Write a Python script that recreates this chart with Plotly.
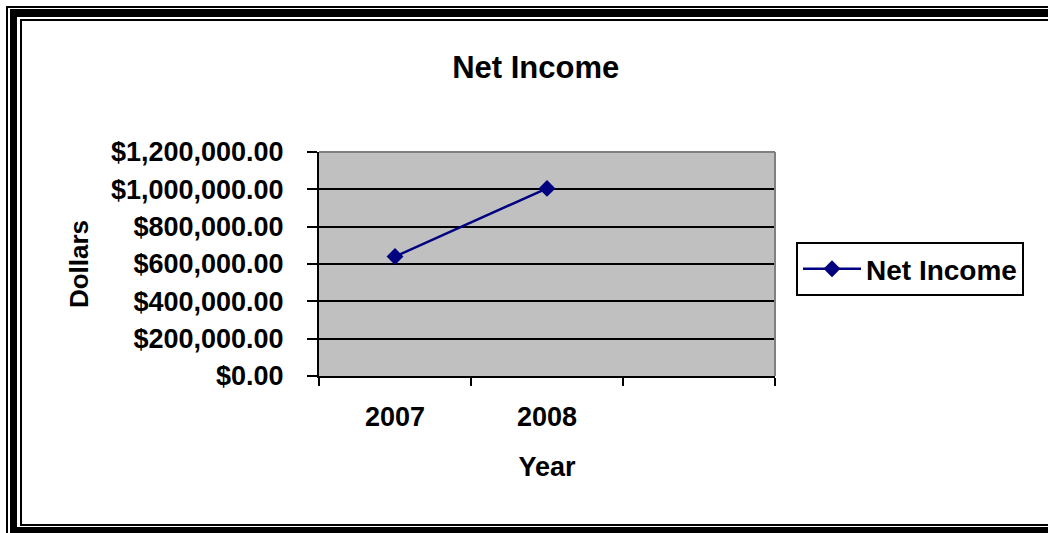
import plotly.graph_objects as go

# ---- data ----
years = ["2007", "2008"]
net_income = [640000, 1005000]
series_name = "Net Income"
chart_title = "Net Income"
x_title = "Year"
y_title = "Dollars"
y_tick_values = [0, 200000, 400000, 600000, 800000, 1000000, 1200000]

W, H = 1048, 533
L, R, T, B = 319, 273, 152, 157
PW, PH = W - L - R, H - T - B

def px_x(p):
    return (p - L) / PW

def px_y(p):
    return (H - B - p) / PH

FONT = "Arial, Liberation Sans, sans-serif"
NAVY = "#000080"

fig = go.Figure()
fig.add_trace(go.Scatter(
    x=years, y=net_income, name=series_name, mode="lines+markers",
    line=dict(color=NAVY, width=2.5),
    marker=dict(symbol="diamond", size=13, color=NAVY),
))

shapes = []
def rect(x0, y0, x1, y1, color="black"):
    shapes.append(dict(type="rect", xref="paper", yref="paper",
                       x0=px_x(x0), x1=px_x(x1), y0=px_y(y0), y1=px_y(y1),
                       fillcolor=color, line=dict(width=0), layer="above"))

# outer thin frame
rect(6, 6, 8, 533)
rect(6, 6, 1048, 8)
# thick frame
rect(10, 9, 17, 533)
rect(10, 9, 1048, 17)
rect(10, 527, 1048, 533)
# inner thin frame
rect(20, 19, 22, 525)
rect(20, 19, 1048, 21)
rect(20, 524, 1048, 526)

# plot area gray border (top and right)
shapes.append(dict(type="line", xref="paper", yref="paper", x0=0, x1=1, y0=1, y1=1,
                   line=dict(color="#808080", width=2), layer="above"))
shapes.append(dict(type="line", xref="paper", yref="paper", x0=1, x1=1, y0=0, y1=1,
                   line=dict(color="#808080", width=2), layer="above"))

fig.update_layout(
    width=W, height=H,
    margin=dict(l=L, r=R, t=T, b=B, autoexpand=False),
    paper_bgcolor="white",
    plot_bgcolor="#C0C0C0",
    font=dict(family=FONT, color="black", size=26, weight="bold"),
    title=dict(text=chart_title, x=535.7 / W, xref="container", xanchor="center",
               y=1 - 67 / H, yref="container", yanchor="middle",
               font=dict(family=FONT, size=31, weight="bold", color="black")),
    showlegend=True,
    legend=dict(x=px_x(796), y=px_y(242), xanchor="left", yanchor="top",
                bgcolor="white", bordercolor="black", borderwidth=2,
                font=dict(family=FONT, size=28, weight="bold", color="black"),
                itemwidth=58),
    shapes=shapes,
)

fig.update_xaxes(
    type="category", categoryorder="array", categoryarray=years + [" "],
    range=[-0.5, 2.5], tickson="boundaries",
    showline=True, linecolor="black", linewidth=2,
    ticks="outside", ticklen=8, tickwidth=2, tickcolor="black",
    showgrid=False, ticklabelstandoff=16,
    tickfont=dict(family=FONT, size=27, weight="bold", color="black"),
    title=dict(text=x_title, standoff=26,
               font=dict(family=FONT, size=27, weight="bold", color="black")),
    zeroline=False, automargin=False,
)
fig.update_yaxes(
    range=[0, 1200000], tickvals=y_tick_values, tickformat="$,.2f",
    showline=True, linecolor="black", linewidth=2,
    ticks="outside", ticklen=10, tickwidth=2, tickcolor="black",
    showgrid=True, gridcolor="black", gridwidth=2,
    ticklabelstandoff=18,
    tickfont=dict(family=FONT, size=27, weight="bold", color="black"),
    title=dict(text=y_title, standoff=15,
               font=dict(family=FONT, size=26, weight="bold", color="black")),
    zeroline=False, automargin=False,
)

fig.write_html("out.html", config={"displayModeBar": False},
               post_script="document.body.style.margin='0';")
